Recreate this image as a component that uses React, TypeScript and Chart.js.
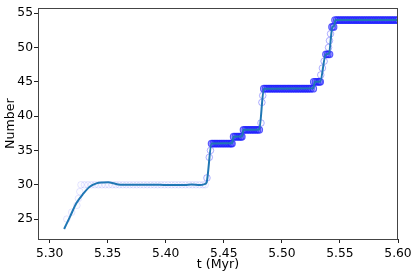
import React, { useEffect, useRef } from 'react';
import { Chart, registerables } from 'chart.js';

Chart.register(...registerables);

const FONT = "'DejaVu Sans', sans-serif";

// x / y tick values
const xTicks = [5.3, 5.35, 5.4, 5.45, 5.5, 5.55, 5.6];
const yTicks = [25, 30, 35, 40, 45, 50, 55];

// smooth fitted line
const lineT = [5.3125, 5.3175, 5.323, 5.329, 5.3345, 5.3403, 5.346, 5.3505, 5.355, 5.359, 5.365, 5.38, 5.395, 5.402, 5.41, 5.4165, 5.4222, 5.4295, 5.4335, 5.4352, 5.4395, 5.457, 5.4585, 5.4655, 5.467, 5.4805, 5.4845, 5.527, 5.5285, 5.533, 5.5378, 5.5405, 5.5435, 5.5448, 5.5462, 5.6];
const lineN = [23.56, 25.33, 27.3, 28.7, 29.7, 30.2, 30.33, 30.35, 30.22, 30.05, 30.02, 30.0, 30.0, 29.95, 29.97, 29.96, 30.05, 29.97, 30.1, 30.35, 36.0, 36.05, 37.0, 37.05, 38.0, 38.05, 44.0, 44.05, 45.0, 45.05, 49.0, 49.1, 53.0, 53.1, 54.0, 54.0];

// faint early samples
const earlyT = [5.3148, 5.319, 5.3235, 5.3248, 5.326];
const earlyN = [25, 26, 27, 28, 29];
const faint30T = [5.327, 5.33, 5.333, 5.336, 5.339, 5.342, 5.345, 5.348, 5.351, 5.354, 5.357, 5.36, 5.363, 5.366, 5.369, 5.372, 5.375, 5.378, 5.381, 5.384, 5.387, 5.39, 5.393, 5.396, 5.399, 5.402, 5.405, 5.408, 5.411, 5.414, 5.417, 5.42, 5.423, 5.426, 5.429, 5.432, 5.434];

// step samples (count = level)
const t36 = [5.4395, 5.441, 5.4425, 5.444, 5.4455, 5.447, 5.4485, 5.45, 5.4515, 5.453, 5.4545, 5.456, 5.457];
const t37 = [5.4585, 5.46, 5.4615, 5.463, 5.4645, 5.4655];
const t38 = [5.467, 5.4685, 5.47, 5.4715, 5.473, 5.4745, 5.476, 5.4775, 5.479, 5.4805];
const t44 = [5.4845, 5.486, 5.4875, 5.489, 5.4905, 5.492, 5.4935, 5.495, 5.4965, 5.498, 5.4995, 5.501, 5.5025, 5.504, 5.5055, 5.507, 5.5085, 5.51, 5.5115, 5.513, 5.5145, 5.516, 5.5175, 5.519, 5.5205, 5.522, 5.5235, 5.525, 5.527];
const t45 = [5.5275, 5.529, 5.5305, 5.532, 5.533];
const t49 = [5.538, 5.5395, 5.541];
const t53 = [5.5432, 5.5445];
const t54 = [5.5458, 5.5473, 5.5488, 5.5503, 5.5518, 5.5533, 5.5548, 5.5563, 5.5578, 5.5593, 5.5608, 5.5623, 5.5638, 5.5653, 5.5668, 5.5683, 5.5698, 5.5713, 5.5728, 5.5743, 5.5758, 5.5773, 5.5788, 5.5803, 5.5818, 5.5833, 5.5848, 5.5863, 5.5878, 5.5893, 5.5908, 5.5923, 5.5938, 5.5953, 5.5968, 5.5983, 5.5998];

// isolated transition samples
const transT = [5.4355, 5.4375, 5.4385, 5.482, 5.4828, 5.4835, 5.5335, 5.5349, 5.5364, 5.5402, 5.541, 5.5419];
const transN = [31, 34, 35, 39, 42, 43, 46, 47, 48, 50, 51, 52];

const levelOf = (ts: number[], n: number) => ts.map((t) => ({ x: t, y: n }));

export default function App() {
  const ref = useRef<HTMLCanvasElement>(null);

  useEffect(() => {
    document.body.style.margin = '0';
    const canvas = ref.current;
    if (!canvas) return;

    const lineData = lineT.map((t, i) => ({ x: t, y: lineN[i] }));
    const faintData = [
      ...earlyT.map((t, i) => ({ x: t, y: earlyN[i] })),
      ...levelOf(faint30T, 30),
    ];
    const isoData = transT.map((t, i) => ({ x: t, y: transN[i] }));
    const denseData = [
      ...levelOf(t36, 36),
      ...levelOf(t37, 37),
      ...levelOf(t38, 38),
      ...levelOf(t44, 44),
      ...levelOf(t45, 45),
      ...levelOf(t49, 49),
      ...levelOf(t53, 53),
      ...levelOf(t54, 54),
    ];

    const frame = {
      id: 'frame',
      afterDraw(chart: any) {
        const { left, top, right, bottom } = chart.chartArea;
        const ctx = chart.ctx;
        ctx.save();
        ctx.strokeStyle = '#444';
        ctx.lineWidth = 1;
        ctx.strokeRect(Math.round(left) + 0.5, Math.round(top) + 0.5, Math.round(right - left) - 1, Math.round(bottom - top));
        ctx.restore();
      },
    };

    const tickFont = { family: FONT, size: 12.3 };
    const titleFont = { family: FONT, size: 12.6 };

    const chart = new Chart(canvas, {
      type: 'scatter',
      data: {
        datasets: [
          {
            type: 'line',
            data: lineData,
            borderColor: '#1f77b4',
            borderWidth: 2,
            pointRadius: 0,
            fill: false,
            showLine: true,
            cubicInterpolationMode: 'monotone',
            clip: 0,
          } as any,
          {
            data: denseData,
            pointRadius: 3.3,
            pointBorderWidth: 1.2,
            borderColor: 'rgba(30,30,255,0.7)',
            backgroundColor: 'rgba(40,40,255,0.25)',
            clip: 0,
          } as any,
          {
            data: isoData,
            pointRadius: 3.3,
            pointBorderWidth: 1,
            borderColor: 'rgba(0,0,255,0.3)',
            backgroundColor: 'rgba(0,0,255,0.02)',
            clip: 0,
          } as any,
          {
            data: faintData,
            pointRadius: 3.3,
            pointBorderWidth: 1,
            borderColor: 'rgba(0,0,255,0.1)',
            backgroundColor: 'rgba(0,0,255,0.01)',
            clip: 0,
          } as any,
        ],
      },
      options: {
        animation: false,
        responsive: false,
        events: [],
        layout: { padding: { top: 6, right: 18, left: 0, bottom: 0 } },
        plugins: { legend: { display: false }, tooltip: { enabled: false } },
        scales: {
          x: {
            type: 'linear',
            min: 5.29,
            max: 5.6,
            afterBuildTicks: (s: any) => {
              s.ticks = xTicks.map((v) => ({ value: v }));
            },
            afterFit: (s: any) => {
              s.height = 35;
            },
            ticks: {
              callback: (v: any) => Number(v).toFixed(2),
              font: tickFont,
              color: '#000',
              maxRotation: 0,
              autoSkip: false,
              padding: 3,
            },
            grid: { display: true, drawOnChartArea: false, tickLength: 4, color: '#222', lineWidth: 1 },
            border: { display: false },
            title: {
              display: true,
              text: 't (Myr)',
              font: titleFont,
              color: '#000',
              padding: { top: 0, bottom: 2 },
            },
          },
          y: {
            type: 'linear',
            min: 22.1,
            max: 55.7,
            afterBuildTicks: (s: any) => {
              s.ticks = yTicks.map((v) => ({ value: v }));
            },
            afterFit: (s: any) => {
              s.width = 38;
            },
            ticks: {
              callback: (v: any) => String(v),
              font: tickFont,
              color: '#000',
              autoSkip: false,
              padding: 1,
            },
            grid: { display: true, drawOnChartArea: false, tickLength: 4, color: '#222', lineWidth: 1 },
            border: { display: false },
            title: {
              display: true,
              text: 'Number',
              font: titleFont,
              color: '#000',
              padding: { top: 3, bottom: 0 },
            },
          },
        },
      } as any,
      plugins: [frame],
    });

    return () => chart.destroy();
  }, []);

  return (
    <div style={{ position: 'fixed', left: 0, top: 0, width: 416, height: 274, background: '#fff' }}>
      <canvas ref={ref} width={416} height={274} style={{ display: 'block' }} />
    </div>
  );
}
